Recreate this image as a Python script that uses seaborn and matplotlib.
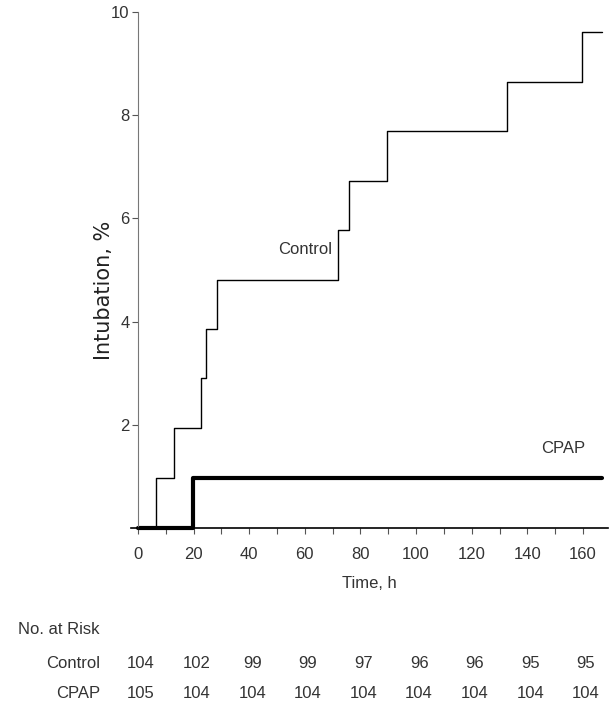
import pandas as pd
import matplotlib
matplotlib.use('Agg')
import matplotlib.pyplot as plt
import seaborn as sns

# step curves: event times (h) and cumulative intubation (%)
control_t = [0, 6.5, 13, 22.7, 24.3, 28.3, 72, 75.7, 89.4, 132.6, 159.6, 166.8]
control_y = [0, 0.96, 1.94, 2.9, 3.85, 4.81, 5.77, 6.73, 7.69, 8.65, 9.62, 9.62]
cpap_t = [0, 19.7, 166.8]
cpap_y = [0, 0.96, 0.96]

risk_times = [0, 20, 40, 60, 80, 100, 120, 140, 160]
risk_control = [104, 102, 99, 99, 97, 96, 96, 95, 95]
risk_cpap = [105, 104, 104, 104, 104, 104, 104, 104, 104]

sns.set_style("ticks")
FONT = ['Liberation Sans', 'DejaVu Sans']
plt.rcParams['font.family'] = FONT
GREY = "#333333"

df = pd.concat([
    pd.DataFrame({"t": control_t, "y": control_y, "grp": "Control"}),
    pd.DataFrame({"t": cpap_t, "y": cpap_y, "grp": "CPAP"}),
])

fig = plt.figure(figsize=(6.14, 7.08), dpi=100)
ax = fig.add_axes([131 / 614, 1 - 528 / 708, 477 / 614, 516 / 708])

sns.lineplot(data=df[df.grp == "Control"], x="t", y="y", ax=ax, color="black",
             lw=1.0, drawstyle="steps-post", clip_on=False)
sns.lineplot(data=df[df.grp == "CPAP"], x="t", y="y", ax=ax, color="black",
             lw=3.0, drawstyle="steps-post", clip_on=False)

ax.set_xlim(-2.5, 169)
ax.set_ylim(0, 10)
sns.despine(ax=ax)
ax.spines["left"].set_position(("data", 0))
ax.spines["left"].set_bounds(0, 10)
ax.spines["left"].set_color("#777777")
ax.spines["bottom"].set_color("black")
ax.spines["bottom"].set_linewidth(1.2)

ax.set_xticks(range(0, 161, 20))
ax.set_xticks(range(10, 170, 20), minor=True)
ax.set_yticks([2, 4, 6, 8, 10])
ax.tick_params(axis="both", direction="out", length=4, width=0.8, colors="#555555",
               labelcolor=GREY, labelsize=12)
ax.tick_params(axis="x", which="minor", direction="out", length=4, width=0.8, colors="#555555")
ax.tick_params(axis="x", pad=10)
ax.tick_params(axis="y", pad=2)

ax.set_xlabel("Time, h", fontsize=12, color=GREY, labelpad=10)
ax.set_ylabel("Intubation, %", fontsize=15, color="#222222", family="DejaVu Sans")
ax.yaxis.set_label_coords(-0.035, 0.46)

ax.text(60, 5.4, "Control", fontsize=12, color=GREY, ha="center", va="center")
ax.text(153, 1.55, "CPAP", fontsize=12, color=GREY, ha="center", va="center")

# number at risk table
fig.text(18 / 614, 1 - 630 / 708, "No. at Risk", fontsize=12, color=GREY,
         ha="left", va="center")
fig.text(100 / 614, 1 - 664 / 708, "Control", fontsize=12, color=GREY,
         ha="right", va="center")
fig.text(100 / 614, 1 - 693 / 708, "CPAP", fontsize=12, color=GREY,
         ha="right", va="center")
for t, c, p in zip(risk_times, risk_control, risk_cpap):
    x_fig = fig.transFigure.inverted().transform(ax.transData.transform((t, 0)))[0] + 3 / 614
    fig.text(x_fig, 1 - 664 / 708, str(c), fontsize=12, color=GREY,
             ha="center", va="center")
    fig.text(x_fig, 1 - 693 / 708, str(p), fontsize=12, color=GREY,
             ha="center", va="center")

fig.savefig("out.png", dpi=100, facecolor="white")
